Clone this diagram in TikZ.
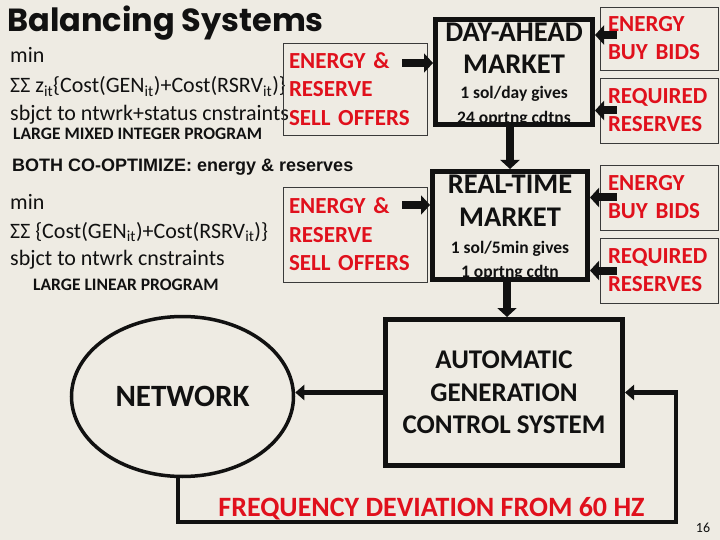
\documentclass[tikz,border=0pt]{standalone}
\usepackage{fontspec}
\setmainfont{Carlito}
\newfontfamily\comicfont{Poppins}
\newfontfamily\arialfont{Liberation Sans}
\usetikzlibrary{arrows.meta, shapes.geometric}
\definecolor{ink}{HTML}{111111}
\definecolor{paper}{HTML}{EEEBE3}
\definecolor{offerred}{HTML}{E0101C}
\definecolor{frameA}{HTML}{3A3A3A}
\tikzset{
  bodyline/.style={anchor=base west, inner sep=0pt, font=\fontsize{22}{24}\selectfont, text=ink},
  progline/.style={anchor=base west, inner sep=0pt, font=\bfseries\fontsize{17.5}{19}\selectfont, text=ink},
  offerbox/.style={draw=frameA, line width=0.9pt, minimum width=144pt, text width=132pt, inner xsep=6pt, align=left, font=\bfseries\fontsize{23}{28.5}\selectfont, text=offerred},
  bidbox/.style={draw=frameA, line width=0.9pt, minimum width=118pt, minimum height=65pt, text width=102pt, inner xsep=8pt, align=left, font=\bfseries\fontsize{23}{28}\selectfont, text=offerred},
  mktbox/.style={draw=ink, line width=5pt},
  mkthead/.style={anchor=base, inner sep=0pt, font=\bfseries\fontsize{28.5}{30}\selectfont, text=ink},
  mktnote/.style={anchor=base, inner sep=0pt, font=\bfseries\fontsize{17.5}{19}\selectfont, text=ink},
  agcbox/.style={draw=ink, line width=5pt, minimum width=237pt, minimum height=146pt, align=center, font=\bfseries\fontsize{27}{32.5}\selectfont, text=ink},
  netbox/.style={ellipse, draw=ink, line width=3.5pt, minimum width=222pt, minimum height=160pt, inner sep=0pt, font=\bfseries\fontsize{31}{33}\selectfont, text=ink},
  heavyarrow/.style={draw=ink, line width=8pt, -{Triangle[length=9pt,width=19pt]}},
  looparrow/.style={draw=ink, line width=4.5pt, -{Triangle[length=9pt,width=15pt]}}
}

\begin{document}
\begin{tikzpicture}[x=1pt,y=-1pt]
\useasboundingbox (0,0) rectangle (720,540);
\fill[paper] (0,0) rectangle (720,540);

\node[anchor=base west, inner sep=0pt, font=\comicfont\bfseries\fontsize{32}{34}\selectfont, text=ink] (title) at (7,32) {Balancing Systems};

% day-ahead formulation
\node[bodyline] (damin) at (10,63) {min};
\node[bodyline] (daobj) at (10,93) {ΣΣ z\textsubscript{it}\{Cost(GEN\textsubscript{it})+Cost(RSRV\textsubscript{it})\}};
\node[bodyline] (dast) at (10,121) {sbjct to ntwrk+status cnstraints};
\node[progline] (daprog) at (13,140) {LARGE MIXED INTEGER PROGRAM};
\node[offerbox, minimum height=92pt] (offers1) at (355,89) {ENERGY \&\\RESERVE\\SELL OFFERS};

\node[anchor=base west, inner sep=0pt, font=\arialfont\bfseries\fontsize{18}{20}\selectfont, text=ink] (coopt) at (12,171.5) {BOTH CO-OPTIMIZE: energy \& reserves};

% real-time formulation
\node[bodyline] (rtmin) at (10,210) {min};
\node[bodyline] (rtobj) at (10,238.5) {ΣΣ \{Cost(GEN\textsubscript{it})+Cost(RSRV\textsubscript{it})\}};
\node[bodyline] (rtst) at (10,265) {sbjct to ntwrk cnstraints};
\node[progline] (rtprog) at (33,290.5) {LARGE LINEAR PROGRAM};
\node[offerbox, minimum height=95pt] (offers2) at (355,234.5) {ENERGY \&\\RESERVE\\SELL OFFERS};

% markets (frame drawn over the last line)
\node[mkthead] (dahead) at (514,42) {DAY-AHEAD};
\node[mkthead] (damkt) at (514,73.5) {MARKET};
\node[mktnote] (dasol) at (514,99) {1 sol/day gives};
\node[mktnote] (dacond) at (514,124) {24 oprtng cdtns};
\node[mktbox, minimum width=157pt, minimum height=105pt] (da) at (514,72) {};

\node[mkthead] (rthead) at (510,194) {REAL-TIME};
\node[mkthead] (rtmkt) at (510,226.5) {MARKET};
\node[mktnote] (rtsol) at (510,253) {1 sol/5min gives};
\node[mktnote] (rtcond) at (510,277) {1 oprtng cdtn};
\node[mktbox, minimum width=155pt, minimum height=108pt] (rt) at (510,225.5) {};

\node[bidbox, minimum height=63pt] (dabuy) at (659,38.5) {ENERGY\\BUY BIDS};
\node[bidbox] (dares) at (659,110.5) {REQUIRED\\RESERVES};
\node[bidbox] (rtbuy) at (659,197.5) {ENERGY\\BUY BIDS};
\node[bidbox] (rtres) at (659,270.5) {REQUIRED\\RESERVES};

% control loop
\node[agcbox] (agc) at (504,392.5) {AUTOMATIC\\GENERATION\\CONTROL SYSTEM};
\node[netbox] (net) at (182.5,396.5) {NETWORK};
\node[anchor=base, inner sep=0pt, font=\bfseries\fontsize{28}{30}\selectfont, text=offerred] (freq) at (431.5,516) {FREQUENCY DEVIATION FROM 60 HZ};
\node[anchor=base, inner sep=0pt, font=\fontsize{14}{16}\selectfont, text=ink] (pagenum) at (703,532) {16};

% arrows
\coordinate (o1tail) at ([shift={(-25pt,26pt)}]offers1.east);
\draw[heavyarrow] (o1tail) -- (o1tail -| da.west);
\coordinate (o2tail) at ([shift={(-25pt,29.5pt)}]offers2.east);
\draw[heavyarrow] (o2tail) -- (o2tail -| rt.west);

\coordinate (dabuytail) at ([shift={(17pt,3.5pt)}]dabuy.west);
\draw[heavyarrow] (dabuytail) -- (dabuytail -| da.east);
\coordinate (darestail) at ([xshift=17pt]dares.west);
\draw[heavyarrow] (darestail) -- (darestail -| da.east);
\coordinate (rtbuytail) at ([xshift=17pt]rtbuy.west);
\draw[heavyarrow] (rtbuytail) -- (rtbuytail -| rt.east);
\coordinate (rtrestail) at ([xshift=17pt]rtres.west);
\draw[heavyarrow] (rtrestail) -- (rtrestail -| rt.east);

\draw[heavyarrow] (rt.north |- da.south) -- (rt.north);
\coordinate (rtout) at ([xshift=-3pt]rt.south);
\draw[heavyarrow] (rtout) -- (rtout |- agc.north);

\draw[looparrow] (agc.west) -- (agc.west -| net.east);
\coordinate (fbstart) at ([xshift=-4.5pt]net.south);
\coordinate (fbcorner) at (676,522);
\draw[looparrow] (fbstart) |- (fbcorner) |- (agc.east);

\end{tikzpicture}
\end{document}
